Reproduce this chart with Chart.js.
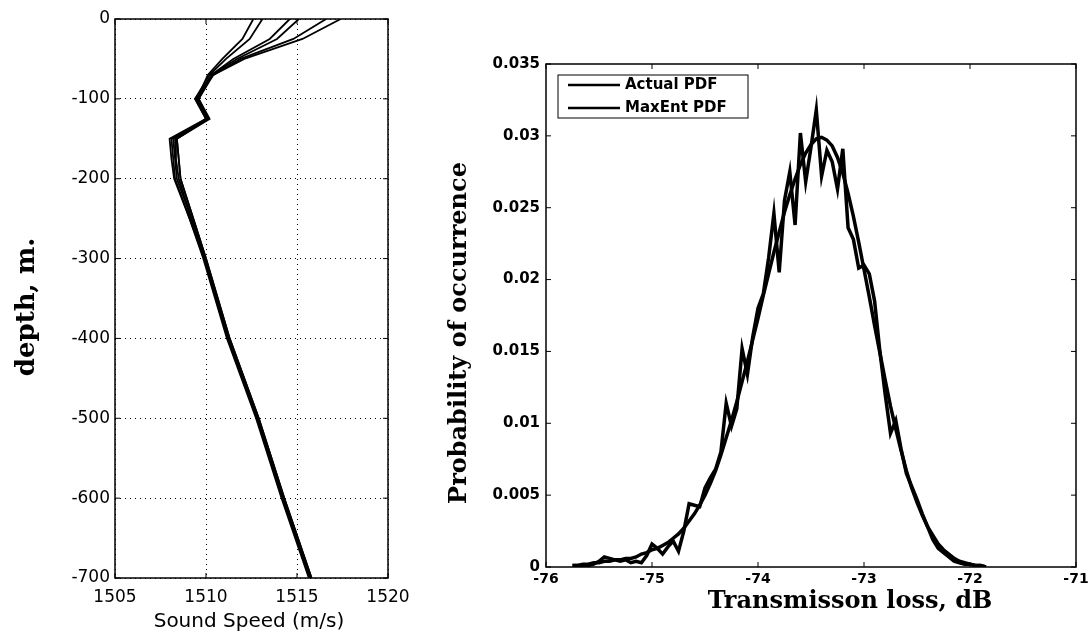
<!DOCTYPE html>
<html>
<head>
<meta charset="utf-8">
<script src="https://cdn.jsdelivr.net/npm/chart.js@4.4.1/dist/chart.umd.min.js"></script>
<style>
  html, body { margin: 0; padding: 0; background: #fff; }
  #wrap { position: relative; width: 1088px; height: 634px; }
  #profileBox { position: absolute; left: 0; top: 0; width: 420px; height: 634px; }
  #pdfBox { position: absolute; left: 420px; top: 0; width: 668px; height: 634px; }
</style>
</head>
<body>
<div id="wrap">
  <div id="profileBox"><canvas id="profileChart"></canvas></div>
  <div id="pdfBox"><canvas id="pdfChart"></canvas></div>
</div>
<script>
// ---- left panel: sound speed profiles ----
var depths = [0, -25, -50, -70, -100, -125, -150, -175, -200, -250, -300, -400, -500, -600, -700];
var speed1 = [1512.6, 1512.0, 1510.9, 1510.1, 1509.5, 1510.1, 1508.1, 1508.2, 1508.3, 1509.1, 1509.85, 1511.15, 1512.75, 1514.15, 1515.65];
var speed2 = [1513.1, 1512.4, 1511.1, 1510.2, 1509.4, 1510.0, 1508.0, 1508.1, 1508.25, 1509.1, 1509.9, 1511.2, 1512.8, 1514.2, 1515.7];
var speed3 = [1514.6, 1513.5, 1511.5, 1510.3, 1509.6, 1510.2, 1508.4, 1508.5, 1508.6, 1509.3, 1510.0, 1511.3, 1512.9, 1514.3, 1515.8];
var speed4 = [1515.1, 1513.9, 1511.7, 1510.3, 1509.5, 1510.1, 1508.2, 1508.3, 1508.4, 1509.2, 1509.95, 1511.25, 1512.85, 1514.25, 1515.75];
var speed5 = [1516.6, 1514.8, 1511.9, 1510.4, 1509.4, 1510.0, 1508.3, 1508.35, 1508.5, 1509.2, 1509.9, 1511.2, 1512.8, 1514.2, 1515.7];
var speed6 = [1517.4, 1515.3, 1512.1, 1510.4, 1509.6, 1510.1, 1508.4, 1508.5, 1508.6, 1509.3, 1510.0, 1511.3, 1512.9, 1514.3, 1515.8];
var speedTicks = [1505, 1510, 1515, 1520];
var depthTicks = [0, -100, -200, -300, -400, -500, -600, -700];

// ---- right panel: transmission loss PDF ----
var lossBins = [-75.75, -75.7, -75.65, -75.6, -75.55, -75.5, -75.45, -75.4, -75.35, -75.3,
                -75.25, -75.2, -75.15, -75.1, -75.05, -75, -74.95, -74.9, -74.85, -74.8,
                -74.75, -74.7, -74.65, -74.6, -74.55, -74.5, -74.45, -74.4, -74.35, -74.3,
                -74.25, -74.2, -74.15, -74.1, -74.05, -74, -73.95, -73.9, -73.85, -73.8,
                -73.75, -73.7, -73.65, -73.6, -73.55, -73.5, -73.45, -73.4, -73.35, -73.3,
                -73.25, -73.2, -73.15, -73.1, -73.05, -73, -72.95, -72.9, -72.85, -72.8,
                -72.75, -72.7, -72.65, -72.6, -72.55, -72.5, -72.45, -72.4, -72.35, -72.3,
                -72.25, -72.2, -72.15, -72.1, -72.05, -72, -71.95, -71.9, -71.85];
var actualPdf = [0.0001, 0.0001, 0.0001, 0.0001, 0.0002, 0.0004, 0.0007, 0.0006, 0.0005, 0.0004,
                 0.0005, 0.0003, 0.0004, 0.0003, 0.0008, 0.0016, 0.0013, 0.0009, 0.0014, 0.0018,
                 0.0011, 0.0025, 0.0044, 0.0043, 0.0042, 0.0055, 0.0062, 0.0068, 0.0080, 0.0114,
                 0.0098, 0.0110, 0.0152, 0.0134, 0.0160, 0.0180, 0.0190, 0.0215, 0.0246, 0.0205,
                 0.0255, 0.0275, 0.0238, 0.0302, 0.0268, 0.0292, 0.0318, 0.0272, 0.0290, 0.0282,
                 0.0263, 0.0291, 0.0236, 0.0228, 0.0208, 0.0210, 0.0204, 0.0185, 0.0150, 0.0120,
                 0.0093, 0.0102, 0.0082, 0.0065, 0.0056, 0.0047, 0.0037, 0.0028, 0.0019, 0.0013,
                 0.0010, 0.0007, 0.0004, 0.0003, 0.0002, 0.0002, 0.0001, 0.0001, 0.0000];
var maxentPdf = [0.0001, 0.0001, 0.0002, 0.0002, 0.0003, 0.0003, 0.0004, 0.0004, 0.0005, 0.0005,
                 0.0006, 0.0006, 0.0007, 0.0009, 0.0010, 0.0012, 0.0013, 0.0015, 0.0017, 0.0020,
                 0.0023, 0.0027, 0.0032, 0.0037, 0.0043, 0.0050, 0.0058, 0.0067, 0.0078, 0.0090,
                 0.0102, 0.0115, 0.0129, 0.0143, 0.0158, 0.0173, 0.0189, 0.0204, 0.0219, 0.0233,
                 0.0247, 0.0259, 0.0270, 0.0280, 0.0288, 0.0294, 0.0298, 0.0299, 0.0297, 0.0293,
                 0.0285, 0.0274, 0.0260, 0.0244, 0.0226, 0.0207, 0.0188, 0.0168, 0.0149, 0.0130,
                 0.0112, 0.0096, 0.0081, 0.0067, 0.0055, 0.0045, 0.0036, 0.0028, 0.0022, 0.0016,
                 0.0012, 0.0009, 0.0006, 0.0004, 0.0003, 0.0002, 0.0001, 0.0001, 0.0000];
var lossTicks = [-76, -75, -74, -73, -72, -71];
var probTicks = [0, 0.005, 0.01, 0.015, 0.02, 0.025, 0.03, 0.035];

function pairs(xs, ys) {
    return xs.map(function(x, i) { return {x: x, y: ys[i]}; });
}
function fixedTicks(list) {
    return function(scale) {
        scale.ticks = list.map(function(v) { return {value: v}; });
    };
}
// plain numbers, no thousands separator
function plainLabel(v) {
    return String(+v.toFixed(3));
}

// box around the plot with small inward ticks on all four sides (matlab style)
var framePlugin = {
    id: 'frame',
    afterDatasetsDraw: function(chart) {
        var a = chart.chartArea, ctx = chart.ctx, len = 5;
        var sx = chart.scales.x, sy = chart.scales.y;
        ctx.save();
        ctx.strokeStyle = '#000';
        ctx.lineWidth = 1.5;
        ctx.strokeRect(a.left, a.top, a.right - a.left, a.bottom - a.top);
        ctx.lineWidth = 1;
        ctx.beginPath();
        sx.ticks.forEach(function(t) {
            var px = sx.getPixelForValue(t.value);
            ctx.moveTo(px, a.bottom); ctx.lineTo(px, a.bottom - len);
            ctx.moveTo(px, a.top); ctx.lineTo(px, a.top + len);
        });
        sy.ticks.forEach(function(t) {
            var py = sy.getPixelForValue(t.value);
            ctx.moveTo(a.left, py); ctx.lineTo(a.left + len, py);
            ctx.moveTo(a.right, py); ctx.lineTo(a.right - len, py);
        });
        ctx.stroke();
        ctx.restore();
    }
};

// axis titles placed where the original figure has them
var titlesPlugin = {
    id: 'axisTitles',
    afterDraw: function(chart, args, opts) {
        var ctx = chart.ctx;
        (opts.items || []).forEach(function(it) {
            ctx.save();
            ctx.translate(it.x, it.y);
            if (it.rotate) ctx.rotate(it.rotate);
            ctx.font = it.font;
            ctx.fillStyle = '#000';
            ctx.textAlign = 'center';
            ctx.textBaseline = 'middle';
            ctx.fillText(it.text, 0, 0);
            ctx.restore();
        });
    }
};

// legend drawn inside the plot, top left, with a frame
var boxLegendPlugin = {
    id: 'boxLegend',
    afterDraw: function(chart, args, opts) {
        var a = chart.chartArea, ctx = chart.ctx;
        var left = a.left + opts.offsetX, top = a.top + opts.offsetY;
        ctx.save();
        ctx.fillStyle = '#fff';
        ctx.fillRect(left, top, opts.width, opts.height);
        ctx.strokeStyle = '#000';
        ctx.lineWidth = 1;
        ctx.strokeRect(left, top, opts.width, opts.height);
        ctx.font = opts.font;
        ctx.textBaseline = 'middle';
        chart.data.datasets.forEach(function(ds, i) {
            var y = top + opts.firstRow + i * opts.rowGap;
            ctx.strokeStyle = ds.borderColor;
            ctx.lineWidth = 2.5;
            ctx.beginPath();
            ctx.moveTo(left + 10, y);
            ctx.lineTo(left + 10 + opts.lineLen, y);
            ctx.stroke();
            ctx.fillStyle = '#000';
            ctx.fillText(ds.label, left + 15 + opts.lineLen, y);
        });
        ctx.restore();
    }
};

var profileSets = [speed1, speed2, speed3, speed4, speed5, speed6].map(function(s, i) {
    return {
        label: 'profile ' + (i + 1),
        data: pairs(s, depths),
        showLine: true,
        borderColor: '#000',
        borderWidth: 1.8,
        pointRadius: 0,
        tension: 0
    };
});

var ctxProfile = document.getElementById('profileChart').getContext('2d');
var profileChart = new Chart(ctxProfile, {
    type: 'scatter',
    data: { datasets: profileSets },
    options: {
        responsive: true,
        maintainAspectRatio: false,
        animation: false,
        layout: { padding: { left: 0, top: 19, right: 32, bottom: 0 } },
        scales: {
            x: {
                type: 'linear',
                min: 1505,
                max: 1520,
                afterBuildTicks: fixedTicks(speedTicks),
                afterFit: function(s) { s.height = 56; s.paddingLeft = 0; s.paddingRight = 0; },
                ticks: { color: '#000', font: { family: 'DejaVu Sans', size: 17 }, padding: 9, maxRotation: 0, autoSkip: false, callback: plainLabel },
                grid: { color: '#000', lineWidth: 1, drawTicks: false },
                border: { display: false, dash: [1, 4] }
            },
            y: {
                type: 'linear',
                min: -700,
                max: 0,
                afterBuildTicks: fixedTicks(depthTicks),
                afterFit: function(s) { s.width = 115; s.paddingTop = 0; s.paddingBottom = 0; },
                ticks: { color: '#000', font: { family: 'DejaVu Sans', size: 17 }, padding: 5, autoSkip: false, callback: plainLabel },
                grid: { color: '#000', lineWidth: 1, drawTicks: false },
                border: { display: false, dash: [1, 4] }
            }
        },
        plugins: {
            legend: { display: false },
            tooltip: { enabled: false },
            axisTitles: {
                items: [
                    { text: 'depth, m.', x: 27, y: 307, rotate: -Math.PI / 2, font: 'bold 26px "DejaVu Serif"' },
                    { text: 'Sound Speed (m/s)', x: 249, y: 622, font: '20px "DejaVu Sans"' }
                ]
            }
        }
    },
    plugins: [framePlugin, titlesPlugin]
});

var ctxPdf = document.getElementById('pdfChart').getContext('2d');
var pdfChart = new Chart(ctxPdf, {
    type: 'scatter',
    data: {
        datasets: [{
            label: 'Actual PDF',
            data: pairs(lossBins, actualPdf),
            showLine: true,
            borderColor: '#000',
            borderWidth: 3.5,
            pointRadius: 0,
            tension: 0
        }, {
            label: 'MaxEnt PDF',
            data: pairs(lossBins, maxentPdf),
            showLine: true,
            borderColor: '#000',
            borderWidth: 3.5,
            pointRadius: 0,
            tension: 0
        }]
    },
    options: {
        responsive: true,
        maintainAspectRatio: false,
        animation: false,
        layout: { padding: { left: 0, top: 64, right: 12, bottom: 0 } },
        scales: {
            x: {
                type: 'linear',
                min: -76,
                max: -71,
                afterBuildTicks: fixedTicks(lossTicks),
                afterFit: function(s) { s.height = 67; s.paddingLeft = 0; s.paddingRight = 0; },
                ticks: { color: '#000', font: { family: 'DejaVu Sans', size: 14, weight: 'bold' }, padding: 4, maxRotation: 0, autoSkip: false, callback: plainLabel },
                grid: { display: false, drawTicks: false },
                border: { display: false }
            },
            y: {
                type: 'linear',
                min: 0,
                max: 0.035,
                afterBuildTicks: fixedTicks(probTicks),
                afterFit: function(s) { s.width = 126; s.paddingTop = 0; s.paddingBottom = 0; },
                ticks: {
                    color: '#000',
                    font: { family: 'DejaVu Sans', size: 15, weight: 'bold' },
                    padding: 6,
                    autoSkip: false,
                    callback: plainLabel
                },
                grid: { display: false, drawTicks: false },
                border: { display: false }
            }
        },
        plugins: {
            legend: { display: false },
            tooltip: { enabled: false },
            boxLegend: {
                offsetX: 12, offsetY: 11, width: 190, height: 43,
                firstRow: 10, rowGap: 23, lineLen: 52,
                font: 'bold 15px "DejaVu Sans"'
            },
            axisTitles: {
                items: [
                    { text: 'Probability of occurrence', x: 40, y: 333, rotate: -Math.PI / 2, font: 'bold 24px "DejaVu Serif"' },
                    { text: 'Transmisson loss, dB', x: 430, y: 602, font: 'bold 24px "DejaVu Serif"' }
                ]
            }
        }
    },
    plugins: [framePlugin, titlesPlugin, boxLegendPlugin]
});
</script>
</body>
</html>
